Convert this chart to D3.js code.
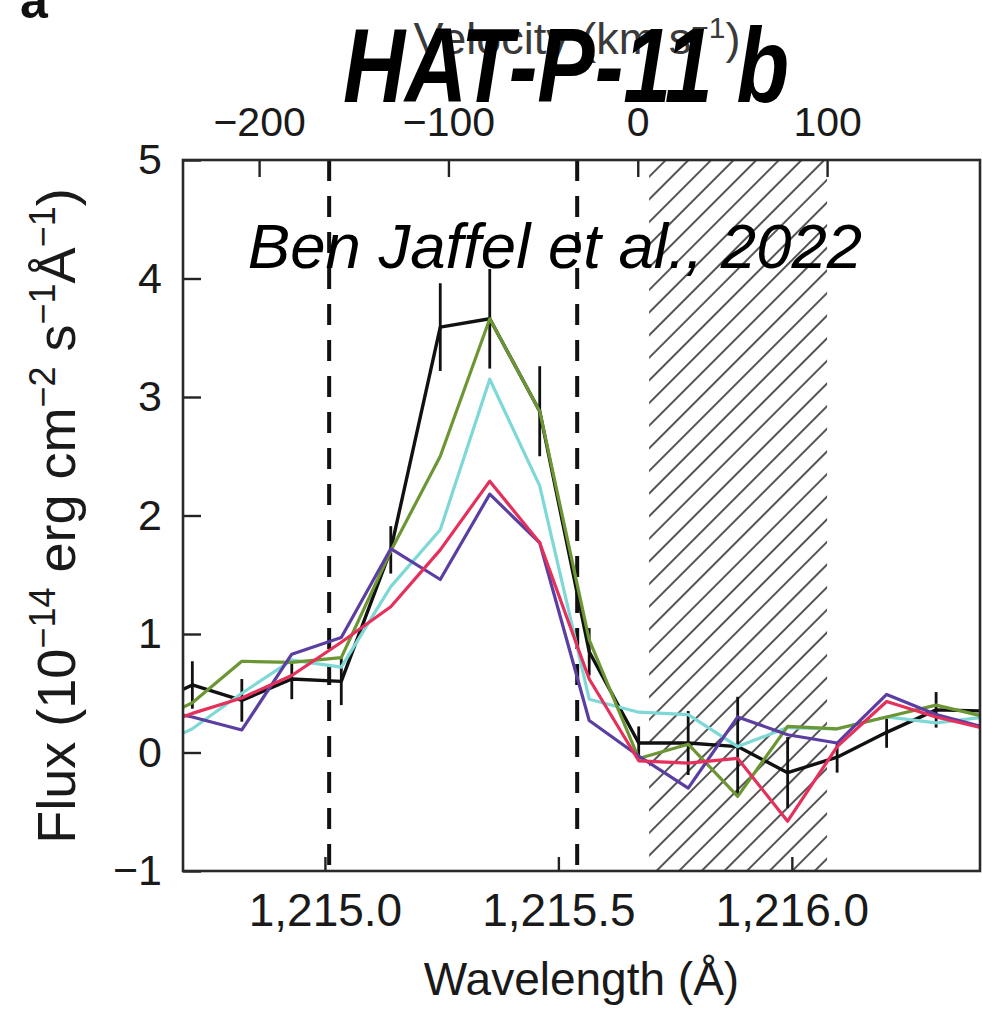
<!DOCTYPE html>
<html>
<head>
<meta charset="utf-8">
<script src="https://cdn.jsdelivr.net/npm/d3@7"></script>
<style>
  body { margin: 0; background: #fff; }
  svg { display: block; font-family: "Liberation Sans", Arial, Helvetica, sans-serif; }
</style>
</head>
<body>
<svg id="chart" width="982" height="1011"></svg>
<script>
// Lyman-alpha line profile of HAT-P-11, binned wavelength grid (Å)
const wavelength = [1214.610, 1214.716, 1214.822, 1214.929, 1215.035, 1215.141, 1215.247, 1215.353, 1215.460,
                    1215.566, 1215.672, 1215.778, 1215.884, 1215.991, 1216.097, 1216.203, 1216.309, 1216.416];

// Flux per visit (1e-14 erg cm^-2 s^-1 Å^-1)
const fluxBlack  = [0.37, 0.57, 0.44, 0.62, 0.60, 1.71, 3.59, 3.66, 2.88, 0.85, 0.08, 0.08, 0.05, -0.17, -0.04, 0.17, 0.36, 0.35];
const errBlack   = [0.20, 0.20, 0.18, 0.17, 0.20, 0.20, 0.37, 0.42, 0.38, 0.20, 0.14, 0.27, 0.42, 0.30, 0.13, 0.13, 0.15, 0.15];
const fluxGreen  = [0.22, 0.42, 0.77, 0.76, 0.80, 1.70, 2.50, 3.66, 2.88, 0.95, -0.05, 0.07, -0.37, 0.22, 0.20, 0.30, 0.40, 0.30];
const fluxCyan   = [0.00, 0.20, 0.50, 0.78, 0.72, 1.40, 1.88, 3.15, 2.25, 0.45, 0.34, 0.32, 0.05, 0.21, 0.20, 0.30, 0.25, 0.30];
const fluxPurple = [0.38, 0.30, 0.19, 0.83, 0.97, 1.72, 1.46, 2.18, 1.77, 0.27, -0.03, -0.30, 0.30, 0.15, 0.08, 0.49, 0.32, 0.21];
const fluxRed    = [0.18, 0.33, 0.46, 0.65, 0.93, 1.23, 1.71, 2.29, 1.77, 0.62, -0.07, -0.09, -0.05, -0.58, 0.05, 0.43, 0.30, 0.20];

// Axis ticks
const fluxTicks = [-1, 0, 1, 2, 3, 4, 5];
const wavelengthTicks = [1215.0, 1215.5, 1216.0];
const velocityTicks = [-200, -100, 0, 100];

// Velocity markers (km/s): absorption window bounds and contaminated band
const windowVelocities = [-163, -32];
const hatchVelocities = [6, 100];

const LAMBDA0 = 1215.67;        // Lyman-alpha rest wavelength (Å)
const C_KMS = 299792.458;

const svg = d3.select("#chart");
const pLeft = 183, pRight = 980, pTop = 160, pBottom = 871;

const x = d3.scaleLinear().domain([1214.696, 1216.403]).range([pLeft, pRight]);
const y = d3.scaleLinear().domain([-1, 5]).range([pBottom, pTop]);
const toVel = l => (l - LAMBDA0) / LAMBDA0 * C_KMS;
const v = d3.scaleLinear().domain(x.domain().map(toVel)).range(x.range());

const defs = svg.append("defs");
defs.append("clipPath").attr("id", "plotClip")
  .append("rect").attr("x", pLeft).attr("y", pTop)
  .attr("width", pRight - pLeft).attr("height", pBottom - pTop);

const hatch = defs.append("pattern").attr("id", "hatch")
  .attr("patternUnits", "userSpaceOnUse")
  .attr("width", 16).attr("height", 16)
  .attr("patternTransform", "rotate(45)");
hatch.append("line").attr("x1", 8).attr("x2", 8).attr("y1", -2).attr("y2", 18)
  .attr("stroke", "#555").attr("stroke-width", 2);

const plot = svg.append("g").attr("clip-path", "url(#plotClip)");

// hatched band
plot.append("rect")
  .attr("x", v(hatchVelocities[0])).attr("y", pTop)
  .attr("width", v(hatchVelocities[1]) - v(hatchVelocities[0]))
  .attr("height", pBottom - pTop)
  .attr("fill", "url(#hatch)");

// dashed window bounds
plot.selectAll("line.window").data(windowVelocities).join("line")
  .attr("class", "window")
  .attr("x1", d => v(d)).attr("x2", d => v(d))
  .attr("y1", pTop).attr("y2", pBottom)
  .attr("stroke", "#111").attr("stroke-width", 4)
  .attr("stroke-dasharray", "21,15");

const line = d3.line().x((d, i) => x(wavelength[i])).y(d => y(d));

// black reference spectrum with error bars
plot.append("path").datum(fluxBlack)
  .attr("d", line).attr("fill", "none")
  .attr("stroke", "#111").attr("stroke-width", 3.4).attr("stroke-linejoin", "round");

plot.selectAll("line.err").data(fluxBlack).join("line")
  .attr("class", "err")
  .attr("x1", (d, i) => x(wavelength[i])).attr("x2", (d, i) => x(wavelength[i]))
  .attr("y1", (d, i) => y(d - errBlack[i])).attr("y2", (d, i) => y(d + errBlack[i]))
  .attr("stroke", "#111").attr("stroke-width", 2.8);

const series = [
  { values: fluxCyan,   color: "#7dd8d6" },
  { values: fluxGreen,  color: "#6c9634" },
  { values: fluxPurple, color: "#5a3ea2" },
  { values: fluxRed,    color: "#e5305b" }
];

plot.selectAll("path.series").data(series).join("path")
  .attr("class", "series")
  .attr("d", d => line(d.values))
  .attr("fill", "none")
  .attr("stroke", d => d.color)
  .attr("stroke-width", 3.2)
  .attr("stroke-linejoin", "round");

// axes with inward ticks
const tickColor = "#222";
function styleAxis(g, fontSize) {
  g.select(".domain").remove();
  g.selectAll(".tick line").attr("stroke", tickColor).attr("stroke-width", 2.4);
  g.selectAll(".tick text").attr("fill", "#1a1a1a")
    .style("font-size", fontSize + "px")
    .style("font-family", '"Liberation Sans", Arial, sans-serif');
}

svg.append("g").attr("transform", `translate(${pLeft},0)`)
  .call(d3.axisLeft(y).tickValues(fluxTicks).tickSizeInner(-18).tickSizeOuter(0).tickPadding(21)
    .tickFormat(d3.format("d")))
  .call(g => styleAxis(g, 43));

svg.append("g").attr("transform", `translate(0,${pBottom})`)
  .call(d3.axisBottom(x).tickValues(wavelengthTicks).tickSizeInner(-14).tickSizeOuter(0).tickPadding(22)
    .tickFormat(d3.format(",.1f")))
  .call(g => styleAxis(g, 46));

svg.append("g").attr("transform", `translate(0,${pTop})`)
  .call(d3.axisTop(v).tickValues(velocityTicks).tickSizeInner(-17).tickSizeOuter(0).tickPadding(24)
    .tickFormat(d3.format("d")))
  .call(g => styleAxis(g, 41));

// frame
svg.append("rect")
  .attr("x", pLeft).attr("y", pTop)
  .attr("width", pRight - pLeft).attr("height", pBottom - pTop)
  .attr("fill", "none").attr("stroke", "#2a2a2a").attr("stroke-width", 2.6);

// axis titles
svg.append("text")
  .attr("x", (pLeft + pRight) / 2).attr("y", 995)
  .attr("text-anchor", "middle").attr("fill", "#1a1a1a")
  .style("font-size", "46px")
  .text("Wavelength (Å)");

const yTitle = svg.append("text")
  .attr("transform", "translate(75,516) rotate(-90)")
  .attr("text-anchor", "middle").attr("fill", "#1a1a1a")
  .style("font-size", "54px");
yTitle.append("tspan").text("Flux (10");
yTitle.append("tspan").attr("dy", -20).style("font-size", "36px").text("−14");
yTitle.append("tspan").attr("dy", 20).text(" erg cm");
yTitle.append("tspan").attr("dy", -20).style("font-size", "36px").text("−2");
yTitle.append("tspan").attr("dy", 20).text(" s");
yTitle.append("tspan").attr("dy", -20).style("font-size", "36px").text("−1");
yTitle.append("tspan").attr("dy", 20).text("Å");
yTitle.append("tspan").attr("dy", -20).style("font-size", "36px").text("−1");
yTitle.append("tspan").attr("dy", 20).text(")");

const vTitle = svg.append("text")
  .attr("x", 577).attr("y", 54)
  .attr("text-anchor", "middle").attr("fill", "#3a3a3a")
  .style("font-size", "45px");
vTitle.append("tspan").text("Velocity (km s");
vTitle.append("tspan").attr("dy", -16).style("font-size", "30px").text("−1");
vTitle.append("tspan").attr("dy", 16).text(")");

// panel letter
svg.append("text").attr("x", 20).attr("y", 18)
  .style("font-size", "50px").style("font-weight", "bold").attr("fill", "#111")
  .text("a");

// title and citation
svg.append("text")
  .attr("x", 566).attr("y", 102)
  .attr("text-anchor", "middle")
  .attr("textLength", 446).attr("lengthAdjust", "spacingAndGlyphs")
  .style("font-size", "106px").style("font-weight", "bold").style("font-style", "italic")
  .attr("fill", "#000")
  .text("HAT-P-11 b");

svg.append("text")
  .attr("x", 555).attr("y", 268)
  .attr("text-anchor", "middle")
  .style("font-size", "63.5px").style("font-style", "italic")
  .attr("fill", "#000")
  .text("Ben Jaffel et al., 2022");
</script>
</body>
</html>
